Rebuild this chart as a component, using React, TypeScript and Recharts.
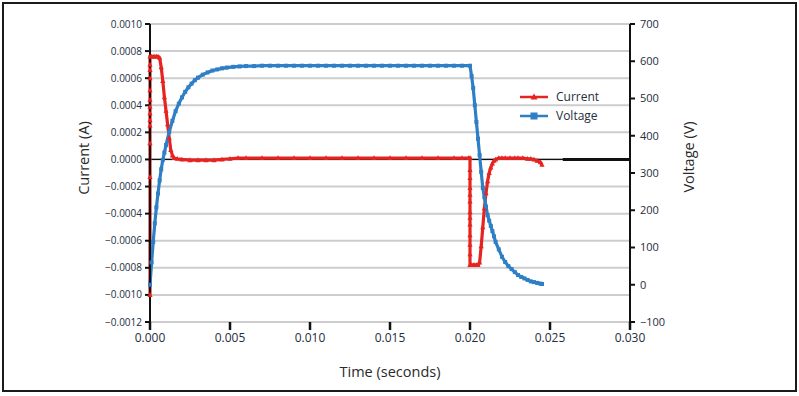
import React from 'react';
import { LineChart, Line, XAxis, YAxis, CartesianGrid, Legend, ReferenceLine } from 'recharts';

// time (s) and current (A)
const currentTime = [
    0, 0, 0, 0, 0, 0, 0, 0, 0, 0, 0, 0, 0,
    0.0001, 0.0002, 0.0003, 0.0004, 0.0005, 0.0006, 0.0007, 0.0008, 0.0009, 0.001,
    0.0011, 0.0012, 0.0013, 0.0014, 0.0015, 0.0017, 0.002, 0.0025, 0.003, 0.0035,
    0.004, 0.0045, 0.005, 0.0055, 0.006, 0.007, 0.008, 0.009, 0.01, 0.011, 0.012,
    0.013, 0.014, 0.015, 0.016, 0.017, 0.018, 0.019, 0.0195, 0.0199,
    0.02, 0.02, 0.02, 0.02, 0.02, 0.02, 0.02, 0.02, 0.02, 0.02, 0.02, 0.02, 0.02,
    0.0201, 0.0202, 0.0203, 0.0204, 0.0205, 0.0206, 0.0207, 0.0208, 0.0209, 0.021,
    0.0211, 0.0212, 0.0213, 0.0214, 0.0215, 0.0216, 0.0218, 0.022, 0.0222, 0.0225,
    0.0228, 0.023, 0.0233, 0.0236, 0.0238, 0.024, 0.0242, 0.0244, 0.0245,
];
const currentAmps = [
    -0.001, -0.00013, 0.00012, 0.00025, 0.00029, 0.00034, 0.00039, 0.00044, 0.00051, 0.0006, 0.00066, 0.0007, 0.00076,
    0.00076, 0.00076, 0.00076, 0.00076, 0.00076, 0.00075, 0.00068, 0.00058, 0.00046, 0.00036,
    0.00026, 0.00016, 0.00007, 0.00003, 0.00001, 0.000005, 0, -0.000005, -0.000005, -0.000005,
    -0.000005, 0, 0.000005, 0.00001, 0.00001, 0.00001, 0.00001, 0.00001, 0.00001, 0.00001, 0.00001,
    0.00001, 0.00001, 0.00001, 0.00001, 0.00001, 0.00001, 0.00001, 0.00001, 0.00001,
    0.00001, -0.000077, -0.000137, -0.00021, -0.00026, -0.00031, -0.00039, -0.00043, -0.00048, -0.00056, -0.00063, -0.0007, -0.00078,
    -0.00078, -0.00078, -0.00078, -0.00078, -0.00078, -0.00076, -0.00064, -0.0005, -0.00036, -0.00025,
    -0.00016, -0.0001, -0.00006, -0.00003, -0.00001, 0, 0.00001, 0.00001, 0.00001, 0.00001,
    0.00001, 0.00001, 0.00001, 0.000005, 0.000005, 0, -0.00001, -0.00002, -0.00004,
];

// time (s) and voltage (V)
const voltageTime = [
    0, 0.0001, 0.0002, 0.0003, 0.0004, 0.0005, 0.0006, 0.0007, 0.0008, 0.0009, 0.001,
    0.0012, 0.0014, 0.0016, 0.0018, 0.002, 0.0022, 0.0024, 0.0026, 0.0028, 0.003,
    0.0033, 0.0036, 0.0039, 0.0042, 0.0045, 0.0048, 0.0052, 0.0056, 0.006, 0.0065,
    0.007, 0.0075, 0.008, 0.0085, 0.009, 0.0095, 0.01, 0.0105, 0.011, 0.0115, 0.012,
    0.0125, 0.013, 0.0135, 0.014, 0.0145, 0.015, 0.0155, 0.016, 0.0165, 0.017, 0.0175,
    0.018, 0.0185, 0.019, 0.0195, 0.02,
    0.0201, 0.0202, 0.0203, 0.0204, 0.0205, 0.0206, 0.0207, 0.0208, 0.0209, 0.021,
    0.0211, 0.0212, 0.0213, 0.0214, 0.0215, 0.0216, 0.0218, 0.022, 0.0222, 0.0224,
    0.0226, 0.0228, 0.023, 0.0232, 0.0234, 0.0236, 0.0238, 0.024, 0.0242, 0.0244, 0.0245,
];
const voltageVolts = [
    0, 60, 115, 165, 208, 245, 280, 310, 335, 355, 375,
    410, 440, 466, 486, 503, 518, 530, 540, 549, 556,
    564, 570, 575, 578, 581, 583, 585, 586, 587, 587,
    588, 588, 588, 588, 588, 588, 588, 588, 588, 588, 588,
    588, 588, 588, 588, 588, 588, 588, 588, 588, 588, 588,
    588, 588, 588, 588, 588,
    560, 528, 482, 437, 392, 348, 303, 260, 235, 210,
    187, 172, 158, 144, 130, 115, 95, 75, 61, 50,
    42, 34, 26, 21, 17, 13, 9, 7, 5, 3, 2,
];

const timeTicks = [0, 0.005, 0.01, 0.015, 0.02, 0.025, 0.03];
const currentTicks = [-0.0012, -0.001, -0.0008, -0.0006, -0.0004, -0.0002, 0, 0.0002, 0.0004, 0.0006, 0.0008, 0.001];
const voltageTicks = [-100, 0, 100, 200, 300, 400, 500, 600, 700];

const currentData = currentTime.map((t, i) => ({ t, v: currentAmps[i] }));
const voltageData = voltageTime.map((t, i) => ({ t, v: voltageVolts[i] }));

const RED = '#e52421';
const BLUE = '#2f7fc6';
const FONT = '"Open Sans", "DejaVu Sans", sans-serif';
const TEXT = '#262d3d';

const minus = (s: string) => s.replace('-', '\u2212');

const Triangle = (props: any) => {
    const { cx, cy, index } = props;
    if (cx == null || cy == null) return <g key={index} />;
    return <polygon key={index} points={`${cx},${cy - 2.8} ${cx - 2.6},${cy + 2} ${cx + 2.6},${cy + 2}`} fill={RED} />;
};

const Square = (props: any) => {
    const { cx, cy, index } = props;
    if (cx == null || cy == null) return <g key={index} />;
    return <rect key={index} x={cx - 2} y={cy - 2} width={4} height={4} fill={BLUE} />;
};

const LegendBox = () => (
    <div style={{ fontFamily: FONT, fontSize: 12, color: TEXT, lineHeight: '19px' }}>
        {[{ name: 'Current', color: RED, tri: true }, { name: 'Voltage', color: BLUE, tri: false }].map((e) => (
            <div key={e.name} style={{ display: 'flex', alignItems: 'center' }}>
                <svg width={36} height={10}>
                    <line x1={0} y1={5} x2={28} y2={5} stroke={e.color} strokeWidth={2.5} />
                    {e.tri
                        ? <polygon points="14,1.5 10.5,7.5 17.5,7.5" fill={e.color} />
                        : <rect x={10.5} y={1.5} width={7} height={7} fill={e.color} />}
                </svg>
                <span>{e.name}</span>
            </div>
        ))}
    </div>
);

const titleStyle: React.CSSProperties = {
    position: 'absolute',
    fontFamily: FONT,
    fontSize: 14.5,
    color: '#2a2a2a',
    whiteSpace: 'nowrap',
    transform: 'translate(-50%, -50%) rotate(-90deg)',
};

const App: React.FC = () => {
    return (
        <div style={{ position: 'absolute', left: 0, top: 0, width: 799, height: 396, background: '#fff' }}>
            <div style={{ position: 'absolute', left: 2, top: 2, width: 795, height: 390, border: '2.5px solid #1b1b1b', boxSizing: 'border-box' }} />
            <LineChart width={799} height={396} margin={{ top: 24, right: 109, bottom: 44, left: 90 }}>
                <CartesianGrid yAxisId="left" vertical={false} stroke="#cdcdcd" strokeWidth={2} />
                <XAxis
                    dataKey="t"
                    type="number"
                    domain={[0, 0.03]}
                    ticks={timeTicks}
                    tickFormatter={(v: number) => v.toFixed(3)}
                    axisLine={false}
                    tickSize={8}
                    tickMargin={3}
                    tickLine={{ stroke: '#111', strokeWidth: 2.5 }}
                    tick={{ fontFamily: FONT, fontSize: 12, fill: TEXT }}
                    height={30}
                    allowDuplicatedCategory
                />
                <YAxis
                    yAxisId="left"
                    type="number"
                    domain={[-0.0012, 0.001]}
                    ticks={currentTicks}
                    tickFormatter={(v: number) => minus(v.toFixed(4))}
                    axisLine={{ stroke: '#111', strokeWidth: 2 }}
                    tickLine={{ stroke: '#111', strokeWidth: 2 }}
                    tickSize={5}
                    tickMargin={3}
                    tick={{ fontFamily: FONT, fontSize: 10, fill: TEXT }}
                    width={60}
                    interval={0}
                />
                <YAxis
                    yAxisId="right"
                    orientation="right"
                    type="number"
                    domain={[-100, 700]}
                    ticks={voltageTicks}
                    tickFormatter={(v: number) => minus(String(v))}
                    axisLine={{ stroke: '#111', strokeWidth: 2 }}
                    tickLine={{ stroke: '#111', strokeWidth: 2 }}
                    tickSize={5}
                    tickMargin={5}
                    tick={{ fontFamily: FONT, fontSize: 11, fill: TEXT }}
                    width={60}
                    interval={0}
                />
                <ReferenceLine yAxisId="left" y={0} stroke="#111" strokeWidth={1.2} />
                <ReferenceLine
                    yAxisId="left"
                    segment={[{ x: 0.0258, y: 0 }, { x: 0.03, y: 0 }]}
                    stroke="#111"
                    strokeWidth={3}
                />
                <Line
                    yAxisId="left"
                    data={currentData}
                    dataKey="v"
                    name="Current"
                    type="linear"
                    stroke={RED}
                    strokeWidth={3.2}
                    dot={<Triangle />}
                    activeDot={false}
                    isAnimationActive={false}
                />
                <Line
                    yAxisId="right"
                    data={voltageData}
                    dataKey="v"
                    name="Voltage"
                    type="linear"
                    stroke={BLUE}
                    strokeWidth={3.2}
                    dot={<Square />}
                    activeDot={false}
                    isAnimationActive={false}
                />
                <Legend
                    layout="vertical"
                    align="center"
                    verticalAlign="middle"
                    content={<LegendBox />}
                    wrapperStyle={{ position: 'absolute', left: 520, top: 87, width: 100 }}
                />
            </LineChart>
            <div style={{ ...titleStyle, left: 83, top: 158 }}>Current (A)</div>
            <div style={{ ...titleStyle, left: 688, top: 157 }}>Voltage (V)</div>
            <div style={{ ...titleStyle, left: 390, top: 371, transform: 'translate(-50%, -50%)' }}>Time (seconds)</div>
        </div>
    );
};

export default App;
